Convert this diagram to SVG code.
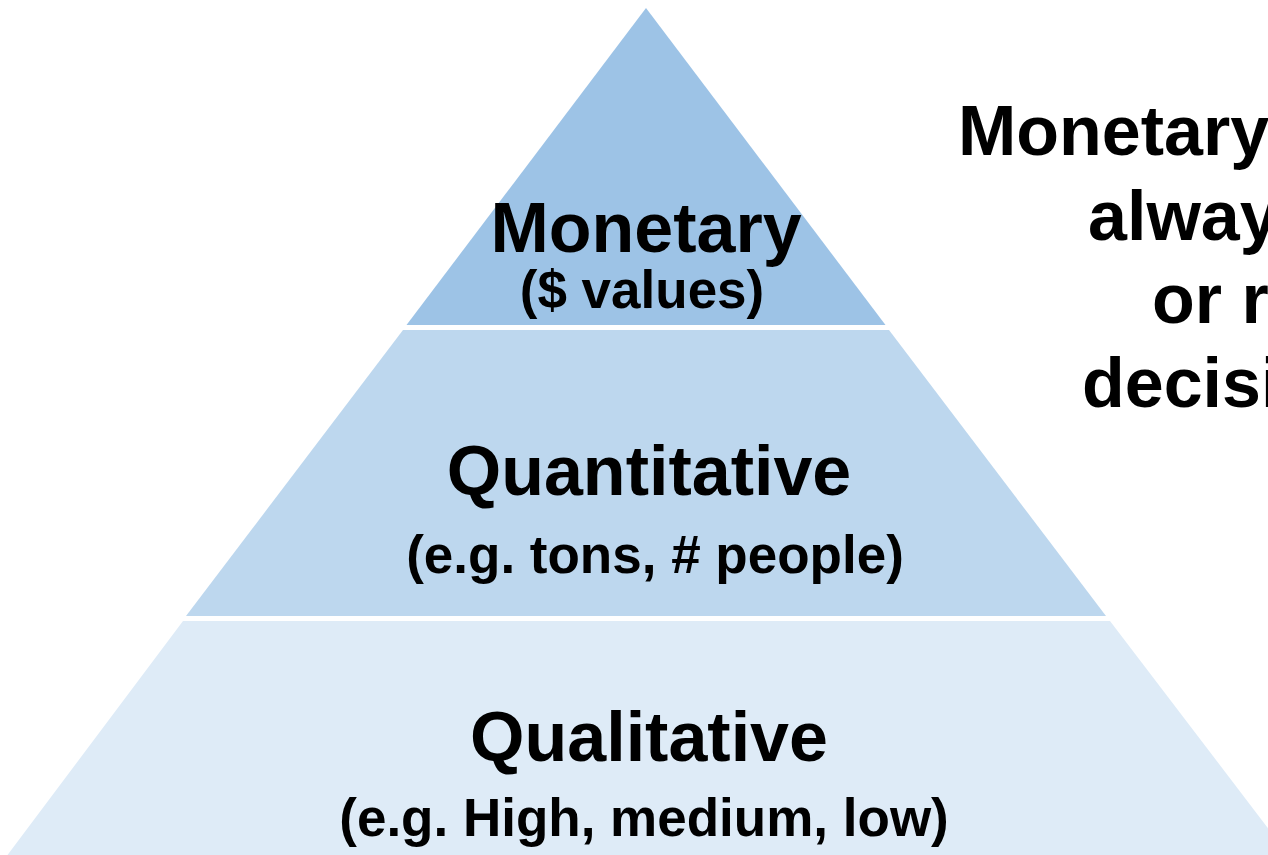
<svg xmlns="http://www.w3.org/2000/svg" width="1268" height="855" viewBox="0 0 1268 855">
<style>
.t{font-family:"Liberation Sans",Arial,sans-serif;font-weight:bold;fill:#000;text-anchor:middle}
.h{font-size:70px}
.s{font-size:53px}
.r{font-family:"Liberation Sans",Arial,sans-serif;font-weight:bold;fill:#000;font-size:70px}
</style>
<rect width="1268" height="855" fill="#fff"/>
<g id="tier-monetary">
<polygon points="646,8 885.5,325 406.5,325" fill="#9DC3E6"/>
<text class="t h" x="646" y="252">Monetary</text>
<text class="t s" x="642" y="308">($ values)</text>
</g>
<g id="tier-quantitative">
<polygon points="403,330 889,330 1106,616 186,616" fill="#BDD7EE"/>
<text class="t h" x="649" y="495">Quantitative</text>
<text class="t s" x="655" y="573">(e.g. tons, # people)</text>
</g>
<g id="tier-qualitative">
<polygon points="183,621 1110,621 1290,857 6,857" fill="#DEEBF7"/>
<text class="t h" x="649" y="761">Qualitative</text>
<text class="t s" x="644" y="836">(e.g. High, medium, low)</text>
</g>
<g id="note">
<text class="r" x="958" y="155">Monetary</text>
<text class="r" x="1088" y="240">alway</text>
<text class="r" x="1152" y="323">or r</text>
<text class="r" x="1082" y="407">decisi</text>
</g>
<g id="connectors"></g>
</svg>
